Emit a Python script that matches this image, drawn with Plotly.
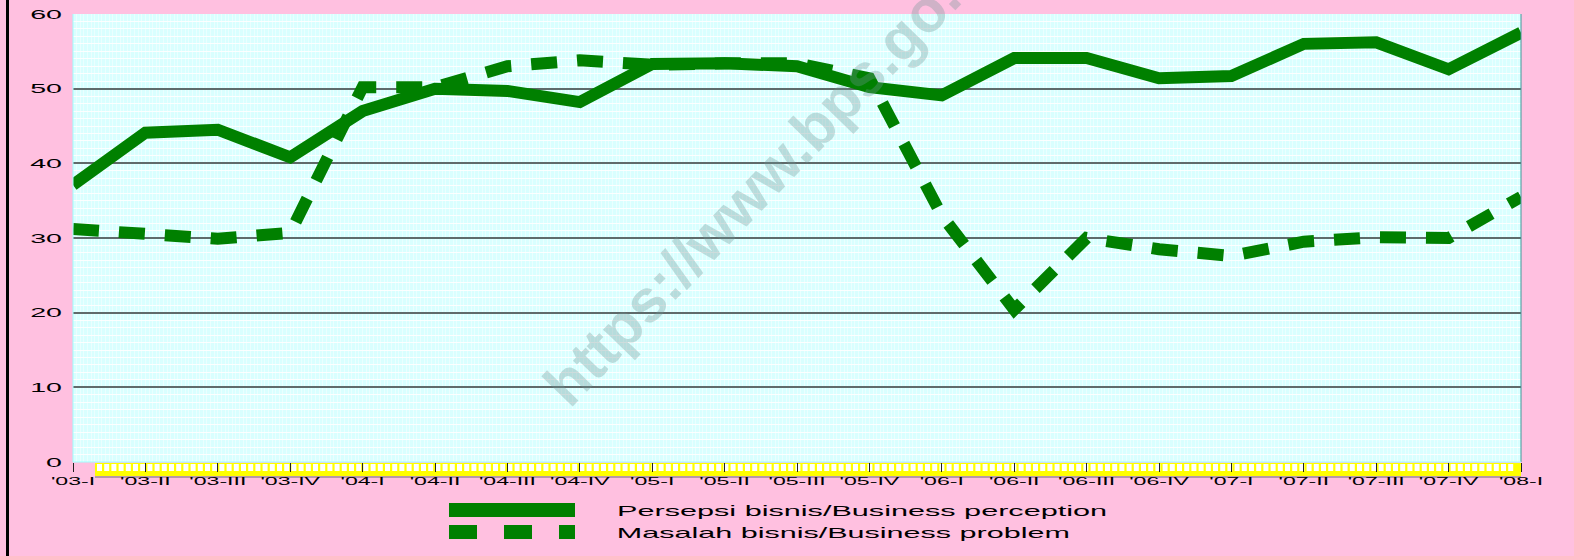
import plotly.graph_objects as go

categories = ["'03-I", "'03-II", "'03-III", "'03-IV", "'04-I", "'04-II", "'04-III", "'04-IV",
              "'05-I", "'05-II", "'05-III", "'05-IV", "'06-I", "'06-II", "'06-III", "'06-IV",
              "'07-I", "'07-II", "'07-III", "'07-IV", "'08-I"]
perception = [37.1, 44.1, 44.5, 40.8, 47.0, 50.0, 49.7, 48.2, 53.3, 53.4, 53.0, 50.2,
              49.1, 54.1, 54.1, 51.4, 51.7, 56.0, 56.2, 52.6, 57.5]
problem = [31.2, 30.7, 29.9, 30.7, 50.2, 50.2, 53.0, 53.8, 53.2, 53.4, 53.4, 51.4,
           33.0, 20.4, 30.0, 28.5, 27.6, 29.5, 30.1, 30.0, 35.5]
series_names = ["Persepsi bisnis/Business perception", "Masalah bisnis/Business problem"]
y_ticks = [0, 10, 20, 30, 40, 50, 60]

W, H = 1574, 556
L, R, T, B = 73, 1521, 14, 462
GREEN = "#008000"
FONT = "Liberation Sans, Arial, sans-serif"


def px(x):
    return (x - L) / (R - L)


def py(y):
    return (B - y) / (B - T)


xs = list(range(len(categories)))

fig = go.Figure()
fig.add_trace(go.Scatter(x=xs, y=perception, mode="lines", name=series_names[0],
                         line=dict(color=GREEN, width=12), showlegend=False))
fig.add_trace(go.Scatter(x=xs, y=problem, mode="lines", name=series_names[1],
                         line=dict(color=GREEN, width=12, dash="26px,20px"), showlegend=False))

shapes = []
# decorative yellow chain strip under the plot area
shapes.append(dict(type="rect", xref="paper", yref="paper", layer="below",
                   x0=px(95), x1=px(1521), y0=py(476), y1=py(463),
                   fillcolor="#FFFF00", line=dict(width=0)))
xx = 97.0
while xx + 5 <= 1520:
    shapes.append(dict(type="rect", xref="paper", yref="paper", layer="below",
                       x0=px(xx), x1=px(xx + 5), y0=py(471), y1=py(464),
                       fillcolor="white", line=dict(width=0)))
    xx += 7.2
shapes.append(dict(type="line", xref="paper", yref="paper", layer="below",
                   x0=px(95), x1=px(1521), y0=py(477), y1=py(477),
                   line=dict(color="#707070", width=1)))
# plot frame edges
shapes.append(dict(type="line", xref="paper", yref="paper", x0=1, x1=1, y0=0, y1=1,
                   line=dict(color="#3C9A9A", width=1)))
shapes.append(dict(type="line", xref="paper", yref="paper", x0=0, x1=0, y0=0, y1=1,
                   line=dict(color="#9FFFFF", width=1)))
shapes.append(dict(type="line", xref="paper", yref="paper", x0=0, x1=1, y0=0, y1=0,
                   line=dict(color="#9FFFFF", width=1)))
# left black border of the page
shapes.append(dict(type="line", xref="paper", yref="paper", x0=px(7.5), x1=px(7.5),
                   y0=py(-5), y1=py(H + 5),
                   line=dict(color="black", width=3)))
# legend samples
shapes.append(dict(type="line", xref="paper", yref="paper", x0=px(449), x1=px(575),
                   y0=py(510), y1=py(510), line=dict(color=GREEN, width=14)))
shapes.append(dict(type="line", xref="paper", yref="paper", x0=px(449), x1=px(575),
                   y0=py(532), y1=py(532), line=dict(color=GREEN, width=14, dash="28px,27px")))

annotations = [
    dict(text=series_names[0], xref="paper", yref="paper", x=px(862), y=py(510),
         xanchor="center", yanchor="middle", showarrow=False,
         font=dict(family=FONT, size=15, color="black")),
    dict(text=series_names[1], xref="paper", yref="paper", x=px(843.5), y=py(532),
         xanchor="center", yanchor="middle", showarrow=False,
         font=dict(family=FONT, size=15, color="black")),
    dict(text="https://www.bps.go.id", xref="paper", yref="paper", x=px(770), y=py(172),
         xanchor="center", yanchor="middle", showarrow=False, textangle=-46,
         font=dict(family=FONT, size=60, color="rgba(110,150,150,0.33)", weight="bold")),
]

fig.update_layout(
    width=W, height=H,
    margin=dict(l=L, r=W - R, t=T, b=H - B, autoexpand=False),
    paper_bgcolor="#FFC0E0",
    plot_bgcolor="#D9FFFF",
    showlegend=False,
    shapes=shapes,
    annotations=annotations,
    xaxis=dict(range=[0, len(categories) - 1], tickmode="array", tickvals=xs, ticktext=categories,
               ticks="outside", ticklen=9, tickcolor="#202020", tickwidth=1,
               showgrid=False, zeroline=False, showline=False, automargin=False,
               tickfont=dict(family=FONT, size=11, color="black"),
               minor=dict(dtick=0.05, showgrid=True, gridcolor="rgba(255,255,255,0.45)", gridwidth=1,
                          ticks="")),
    yaxis=dict(range=[0, 60], tickmode="array", tickvals=y_ticks,
               showgrid=True, gridcolor="#5F6A6A", gridwidth=2, zeroline=False, showline=False,
               ticks="", ticklabelstandoff=10, automargin=False,
               tickfont=dict(family=FONT, size=13, color="black"),
               minor=dict(dtick=1, showgrid=True, gridcolor="rgba(255,255,255,0.9)", gridwidth=1)),
)

# page without body margin; widen texts horizontally like the original (stretched) chart
post = """
document.body.style.margin = '0';
document.body.style.padding = '0';
var gd = document.getElementById('{plot_id}');
function stretch(el, target) {
  var w = el.getComputedTextLength();
  if (w > 0) {
    el.setAttribute('textLength', target(w));
    el.setAttribute('lengthAdjust', 'spacingAndGlyphs');
  }
}
gd.querySelectorAll('.xtick text').forEach(function (t) { stretch(t, function (w) { return w * 2.1; }); });
gd.querySelectorAll('.ytick text').forEach(function (t) { stretch(t, function (w) { return w * 2.2; }); });
var a0 = gd.querySelector('.annotation[data-index="0"] text');
var a1 = gd.querySelector('.annotation[data-index="1"] text');
if (a0) stretch(a0, function () { return 490; });
if (a1) stretch(a1, function () { return 453; });
"""

fig.write_html("out.html", post_script=post, config={"displayModeBar": False})
